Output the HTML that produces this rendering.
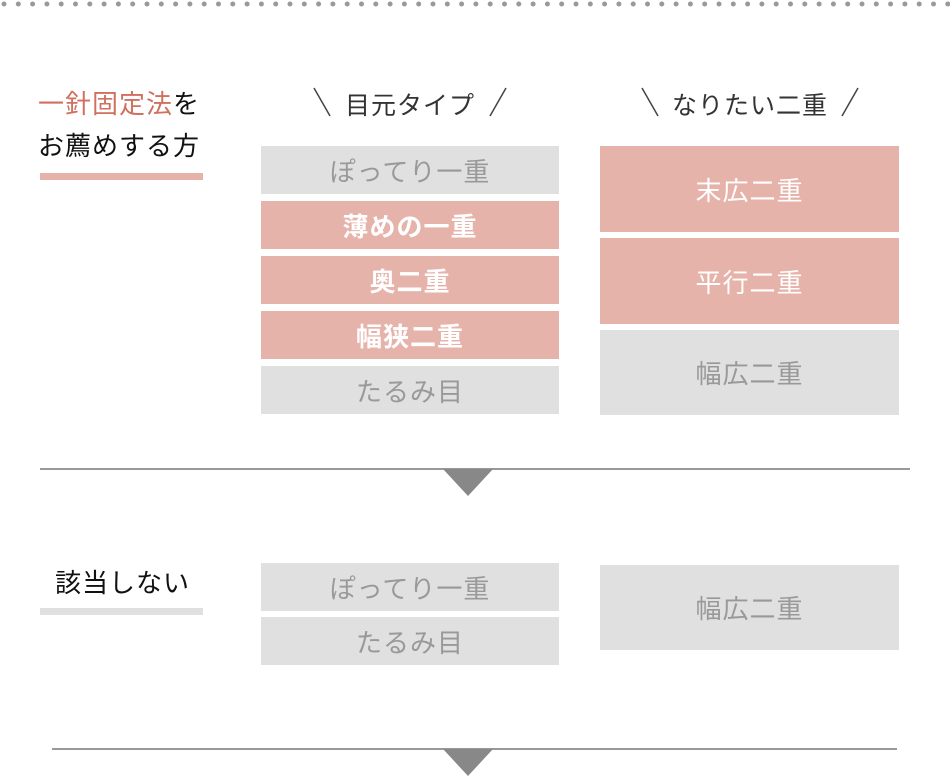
<!DOCTYPE html>
<html><head><meta charset="utf-8"><style>
body{margin:0;width:950px;height:777px;background:#fff;position:relative;overflow:hidden;font-family:"Liberation Sans","Noto Sans CJK JP",sans-serif;}
.a{position:absolute;}
.b{position:absolute;display:flex;align-items:center;justify-content:center;font-size:26px;letter-spacing:1px;}
.g{background:#e0e0e0;color:#999;}
.p{background:#e6b3aa;color:#fff;font-weight:bold;}
.pr{background:#e6b3aa;color:#fff;}
.h{position:absolute;font-size:25px;color:#333;text-align:center;letter-spacing:1px;}
</style></head><body>
<svg class="a" style="left:0;top:0" width="950" height="10">
<line x1="4" y1="4" x2="950" y2="4" stroke="#999" stroke-width="5" stroke-linecap="round" stroke-dasharray="0 14.3"/>
</svg>
<div class="a" style="left:38px;top:83px;font-size:26px;line-height:42px;color:#111;letter-spacing:1px"><span style="color:#d0705f">一針固定法</span>を<br>お薦めする方</div>
<div class="a" style="left:40px;top:173px;width:163px;height:7px;background:#e6b3aa"></div>
<svg class="a" style="left:310px;top:84px" width="200" height="36"><line x1="4" y1="4" x2="20" y2="32" stroke="#444" stroke-width="1.5"/><line x1="196" y1="4" x2="180" y2="32" stroke="#444" stroke-width="1.5"/></svg>
<svg class="a" style="left:638px;top:84px" width="224" height="36"><line x1="4" y1="4" x2="20" y2="32" stroke="#444" stroke-width="1.5"/><line x1="220" y1="4" x2="204" y2="32" stroke="#444" stroke-width="1.5"/></svg>
<div class="h" style="left:260px;width:300px;top:86px">目元タイプ</div>
<div class="h" style="left:600px;width:300px;top:86px">なりたい二重</div>
<div class="b g" style="left:261px;top:146px;width:298px;height:48px">ぽってり一重</div>
<div class="b p" style="left:261px;top:201px;width:298px;height:48px">薄めの一重</div>
<div class="b p" style="left:261px;top:256px;width:298px;height:48px">奥二重</div>
<div class="b p" style="left:261px;top:311px;width:298px;height:48px">幅狭二重</div>
<div class="b g" style="left:261px;top:366px;width:298px;height:48px">たるみ目</div>
<div class="b pr" style="left:600px;top:146px;width:299px;height:86px">末広二重</div>
<div class="b pr" style="left:600px;top:238px;width:299px;height:86px">平行二重</div>
<div class="b g" style="left:600px;top:330px;width:299px;height:85px">幅広二重</div>
<div class="a" style="left:40px;top:468px;width:870px;height:2px;background:#999"></div>
<svg class="a" style="left:443px;top:469px" width="50" height="27"><polygon points="0,0 50,0 25,27" fill="#888"/></svg>
<div class="a" style="left:55px;top:563px;font-size:26px;color:#111;letter-spacing:1px">該当しない</div>
<div class="a" style="left:40px;top:608px;width:163px;height:7px;background:#e0e0e0"></div>
<div class="b g" style="left:261px;top:563px;width:298px;height:48px">ぽってり一重</div>
<div class="b g" style="left:261px;top:617px;width:298px;height:48px">たるみ目</div>
<div class="b g" style="left:600px;top:565px;width:299px;height:85px">幅広二重</div>
<div class="a" style="left:52px;top:748px;width:845px;height:2px;background:#999"></div>
<svg class="a" style="left:443px;top:749px" width="50" height="27"><polygon points="0,0 50,0 25,27" fill="#888"/></svg>
</body></html>
